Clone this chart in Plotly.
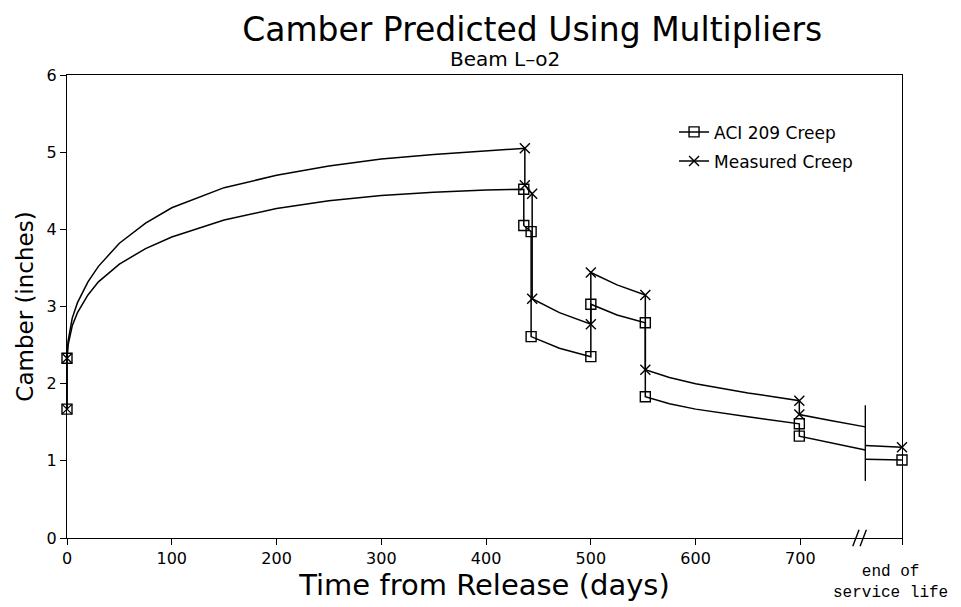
import plotly.graph_objects as go

# camber curves (days from release, inches); None = gap at the axis break
aci_days = [0, 0, 1, 5, 10, 20, 30, 50, 75, 100, 150, 200, 250, 300, 350, 400, 436,
            436, 443, 443, 470, 500, 500, 525, 552, 552, 575, 600, 650, 699, 699, 730, 762,
            None, 762, 797]
aci_camber = [1.67, 2.33, 2.50, 2.75, 2.92, 3.15, 3.32, 3.55, 3.75, 3.90, 4.12, 4.27, 4.37, 4.44, 4.48, 4.51, 4.52,
              4.05, 3.97, 2.61, 2.46, 2.35, 3.03, 2.89, 2.79, 1.83, 1.74, 1.67, 1.57, 1.48, 1.32, 1.23, 1.14,
              None, 1.02, 1.01]

meas_days = [0, 0, 1, 5, 10, 20, 30, 50, 75, 100, 150, 200, 250, 300, 350, 400, 437,
             437, 444, 444, 470, 500, 500, 525, 552, 552, 575, 600, 650, 699, 699, 730, 762,
             None, 762, 797]
meas_camber = [1.67, 2.33, 2.55, 2.85, 3.05, 3.32, 3.52, 3.82, 4.08, 4.28, 4.54, 4.70, 4.82, 4.91, 4.97, 5.02, 5.05,
               4.57, 4.46, 3.10, 2.92, 2.77, 3.44, 3.28, 3.15, 2.18, 2.08, 2.00, 1.88, 1.78, 1.60, 1.52, 1.44,
               None, 1.20, 1.175]

# points that carry a symbol
aci_mark_days = [0, 0, 436, 436, 443, 443, 500, 500, 552, 552, 699, 699, 797]
aci_mark_camber = [1.67, 2.33, 4.52, 4.05, 3.97, 2.61, 2.35, 3.03, 2.79, 1.83, 1.48, 1.32, 1.01]
meas_mark_days = [0, 0, 437, 437, 444, 444, 500, 500, 552, 552, 699, 699, 797]
meas_mark_camber = [1.67, 2.33, 5.05, 4.57, 4.46, 3.10, 2.77, 3.44, 3.15, 2.18, 1.78, 1.60, 1.175]

x_ticks = [0, 100, 200, 300, 400, 500, 600, 700]
end_day = 797          # "end of service life"
break_day = 762        # vertical line where the time axis is broken
break_line = [0.74, 1.72]

FONT = "DejaVu Sans"


def split_points(xs, ys):
    # isolate every point so a lines+markers trace draws no segments (legend still shows line)
    gx, gy = [], []
    for x, y in zip(xs, ys):
        gx += [x, None]
        gy += [y, None]
    return gx, gy


fig = go.Figure()

series = [
    ("ACI 209 Creep", aci_days, aci_camber, aci_mark_days, aci_mark_camber, "square-open"),
    ("Measured Creep", meas_days, meas_camber, meas_mark_days, meas_mark_camber, "x-thin-open"),
]
for name, xs, ys, mx, my, sym in series:
    fig.add_trace(go.Scatter(x=xs, y=ys, mode="lines", line=dict(color="black", width=1.5),
                             showlegend=False, legendgroup=name, cliponaxis=False, hoverinfo="skip"))
    gx, gy = split_points(mx, my)
    fig.add_trace(go.Scatter(x=gx, y=gy, mode="lines+markers", name=name, legendgroup=name,
                             connectgaps=False, cliponaxis=False,
                             line=dict(color="black", width=1.5),
                             marker=dict(symbol=sym, size=10, color="black",
                                         line=dict(color="black", width=1.4))))

# vertical line at the break and the // mark on the time axis
fig.add_shape(type="line", xref="x", yref="y", x0=break_day, x1=break_day,
              y0=break_line[0], y1=break_line[1], line=dict(color="black", width=1.4))
for bx in [break_day - 9, break_day - 2]:
    fig.add_shape(type="line", xref="x", yref="paper", x0=bx - 3, x1=bx + 3,
                  y0=-0.018, y1=0.018, line=dict(color="black", width=1.4))

fig.add_annotation(x=end_day, y=0, xref="x", yref="paper", xanchor="center", yanchor="middle",
                   xshift=-12, yshift=-44, showarrow=False,
                   text="end of<br>service life", align="center",
                   font=dict(family="Liberation Mono", size=16, color="black"))

fig.add_annotation(x=0.525, y=1.034, xref="paper", yref="paper", xanchor="center", yanchor="middle",
                   showarrow=False, text="Beam L\u2013o2",
                   font=dict(family=FONT, size=20, color="black"))

# page body keeps an 8px margin, so the figure is 8px smaller and the margins shifted
fig.update_layout(
    width=953, height=599,
    paper_bgcolor="white", plot_bgcolor="white",
    margin=dict(l=59, r=59, t=67, b=69),
    font=dict(family=FONT, size=16, color="black"),
    title=dict(text="Camber Predicted Using Multipliers",
               x=0.55, xanchor="center", y=0.965, yanchor="middle",
               font=dict(family=FONT, size=33, color="black")),
    legend=dict(x=0.727, y=0.915, xanchor="left", yanchor="top", bgcolor="rgba(0,0,0,0)",
                traceorder="grouped", tracegroupgap=4, font=dict(size=17)),
    showlegend=True,
)
fig.update_xaxes(range=[0, end_day], tickvals=x_ticks + [end_day],
                 ticktext=[str(t) for t in x_ticks] + [""],
                 showgrid=False, zeroline=False, showline=True, mirror=True,
                 linecolor="black", linewidth=1.4, ticks="outside", ticklen=6,
                 tickwidth=1.4, tickcolor="black",
                 title=dict(text="Time from Release (days)", font=dict(size=29), standoff=0))
fig.update_yaxes(range=[0, 6], dtick=1, showgrid=False, zeroline=False, showline=True,
                 mirror=True, linecolor="black", linewidth=1.4, ticks="outside", ticklen=6,
                 tickwidth=1.4, tickcolor="black",
                 title=dict(text="Camber (inches)", font=dict(size=23), standoff=6))

fig.write_html("out.html")
